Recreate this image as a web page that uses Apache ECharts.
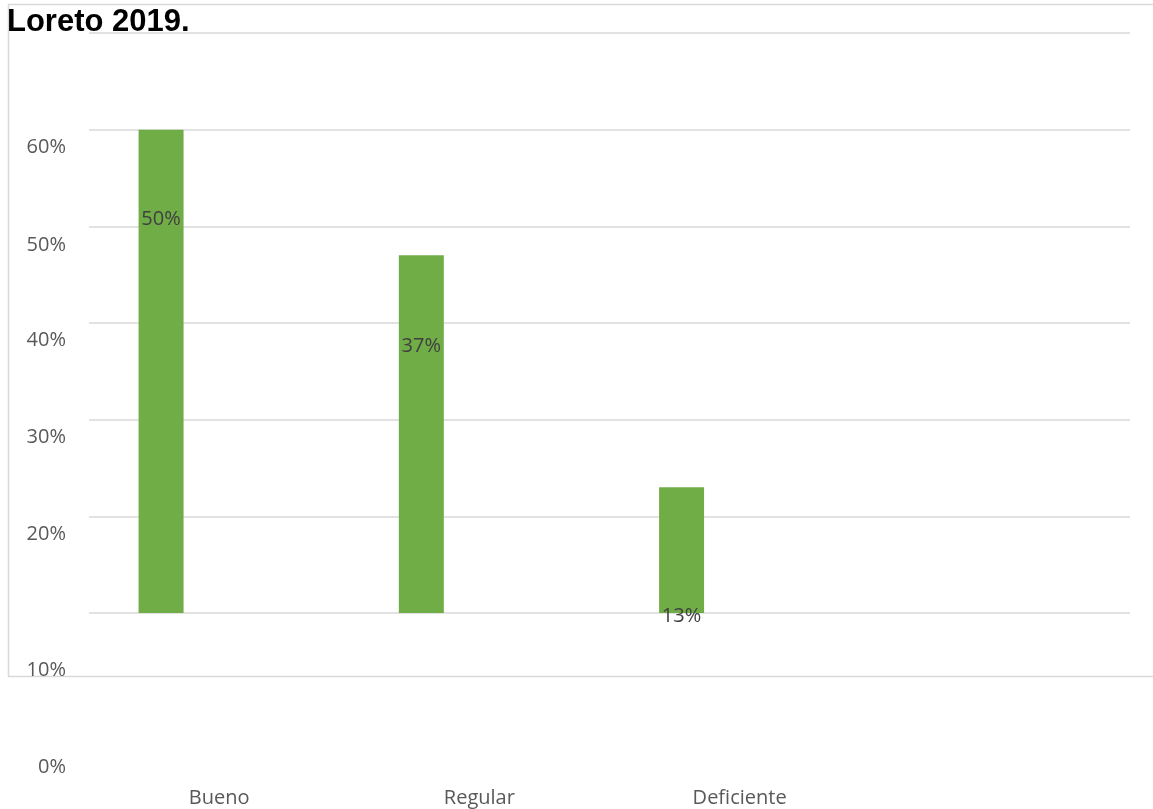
<!DOCTYPE html>
<html>
<head>
<meta charset="utf-8">
<script src="https://cdn.jsdelivr.net/npm/echarts@6/dist/echarts.min.js"></script>
<style>
html,body{margin:0;padding:0;background:#fff;}
#chart{width:1153px;height:809px;}
</style>
</head>
<body>
<div id="chart"></div>
<script>
// ---- data ----
const titleText = "Loreto 2019.";
const categories = ["Bueno", "Regular", "Deficiente", ""];
const values = [50, 37, 13, null];           // percent
const valueLabels = ["50%", "37%", "13%", ""];
const yTickLabels = ["60%", "50%", "40%", "30%", "20%", "10%", "0%"];

// ---- style / layout (not data) ----
const yTickLabelCenterY = [147, 245, 340, 437, 534, 670, 767];
const dataLabelDy = [90, 91, 129, 0];
const BAR_W = 45;
const FONT = '"Open Sans", "Noto Sans", sans-serif';

const chart = echarts.init(document.getElementById('chart'), null, {renderer: 'canvas'});

const barData = values.map((v, i) => ({
  value: v,
  label: {
    show: v !== null,
    formatter: valueLabels[i],
    position: [BAR_W / 2, dataLabelDy[i]],
    align: 'center',
    verticalAlign: 'middle'
  }
}));

const graphics = [
  {
    type: 'rect', z: 0, silent: true,
    shape: {x: 8.5, y: 4.5, width: 1160, height: 672},
    style: {fill: 'none', stroke: '#d9d9d9', lineWidth: 1.5}
  },
  {
    type: 'text', z: 100, left: 7, top: 7,
    style: {text: titleText, font: 'bold 31px "Liberation Sans", Arial, sans-serif', fill: '#000'}
  }
];
yTickLabels.forEach((t, i) => {
  graphics.push({
    type: 'text', z: 100, silent: true,
    x: 66, y: yTickLabelCenterY[i],
    style: {text: t, fill: '#595959', font: '20px ' + FONT, align: 'right', verticalAlign: 'middle'}
  });
});

chart.setOption({
  animation: false,
  backgroundColor: '#fff',
  grid: {left: 89, right: 23, top: 33, bottom: 196, containLabel: false},
  xAxis: {
    type: 'category',
    data: categories,
    axisLine: {show: false},
    axisTick: {show: false},
    axisLabel: {margin: 175, color: '#595959', fontSize: 20, fontFamily: FONT, interval: 0}
  },
  yAxis: {
    type: 'value',
    min: 0, max: 60, interval: 10,
    axisLine: {show: false},
    axisTick: {show: false},
    axisLabel: {show: false},
    splitLine: {lineStyle: {color: '#d9d9d9', width: 1.5}}
  },
  series: [
    {
      type: 'bar',
      data: barData,
      barWidth: BAR_W,
      barGap: '158%',
      itemStyle: {color: '#70AD47'},
      label: {color: '#404040', fontSize: 20, fontFamily: FONT}
    },
    {
      type: 'bar',
      data: categories.map(() => null),
      barWidth: BAR_W,
      itemStyle: {color: '#70AD47'}
    }
  ],
  graphic: graphics
});
</script>
</body>
</html>
